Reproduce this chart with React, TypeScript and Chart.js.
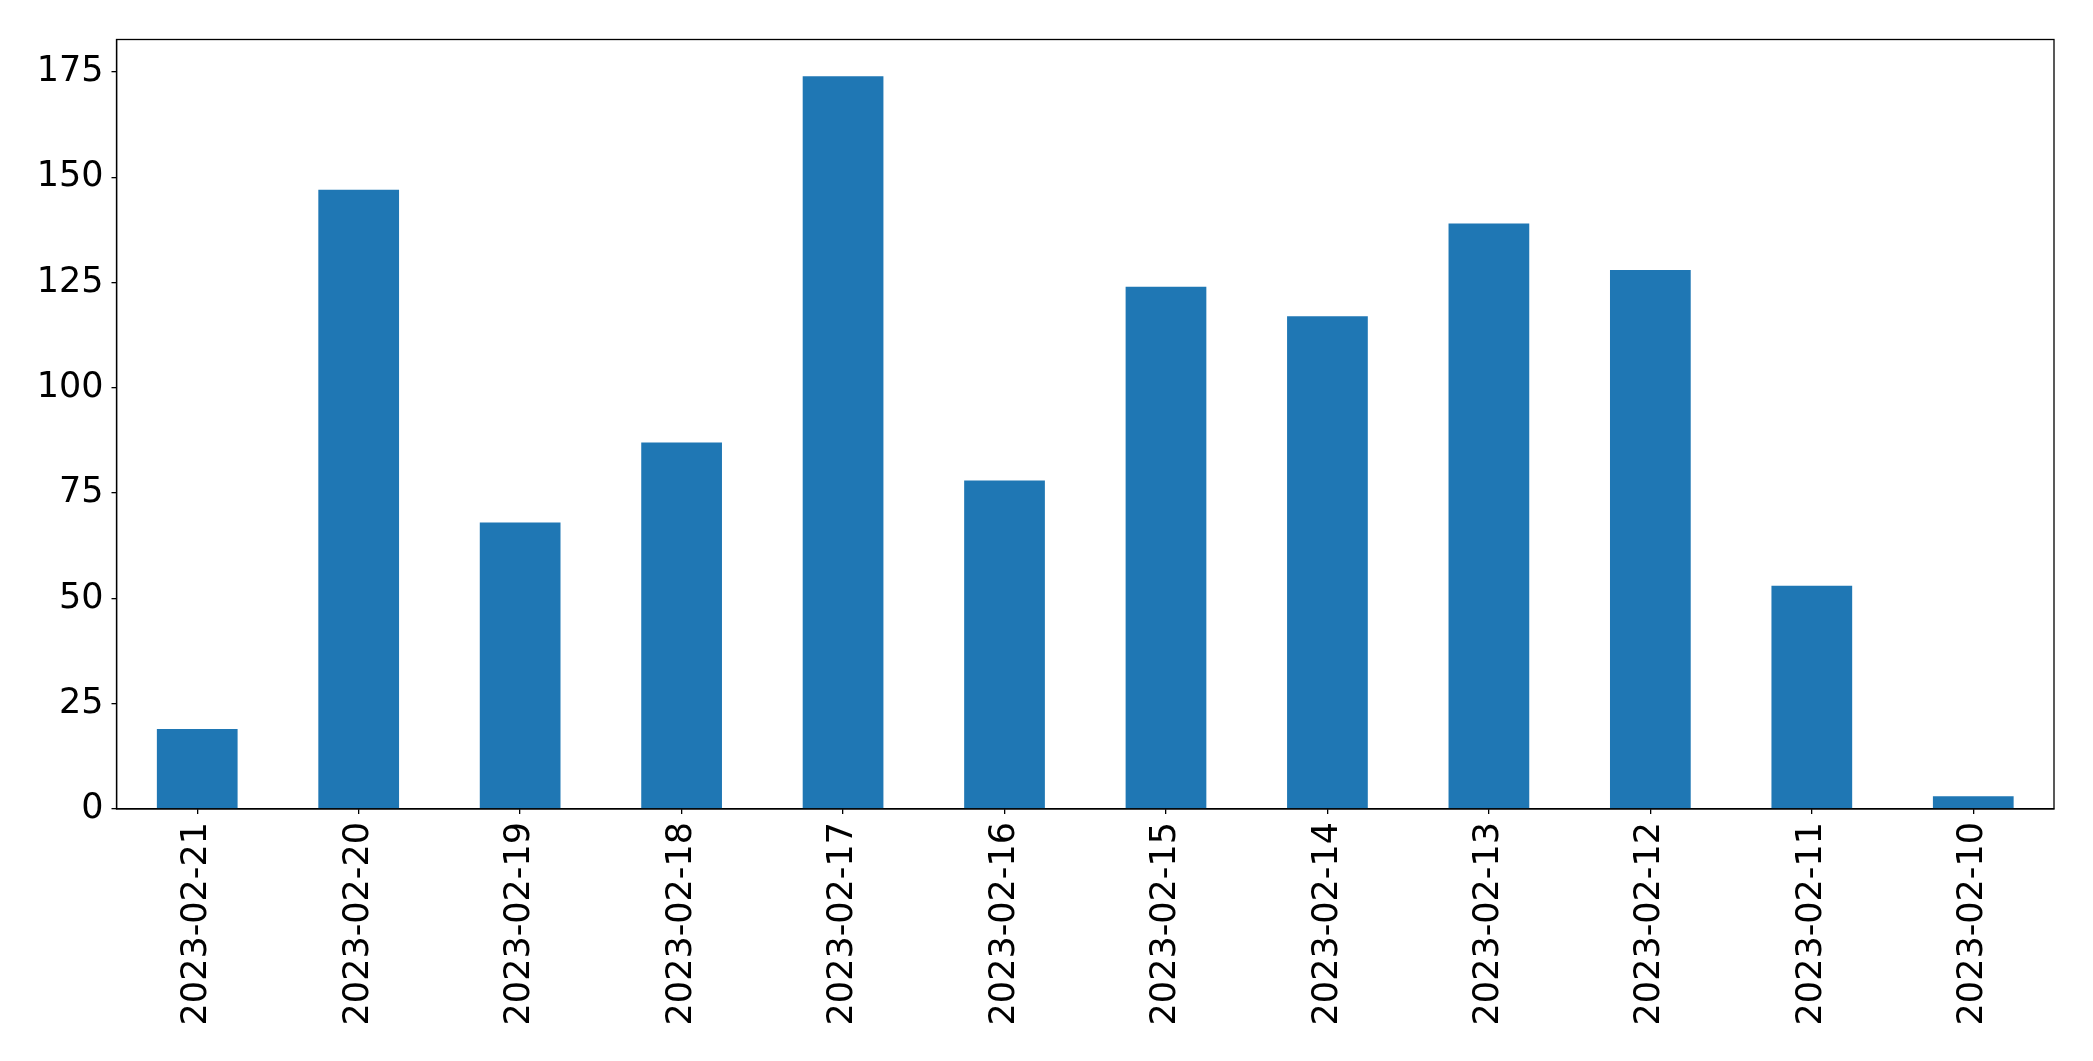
import React, { useEffect, useRef } from "react";
import { Chart, registerables } from "chart.js";

Chart.register(...registerables);

const categories = [
  "2023-02-21", "2023-02-20", "2023-02-19", "2023-02-18", "2023-02-17", "2023-02-16",
  "2023-02-15", "2023-02-14", "2023-02-13", "2023-02-12", "2023-02-11", "2023-02-10",
];
const counts = [19, 147, 68, 87, 174, 78, 124, 117, 139, 128, 53, 3];
const yTicks = [0, 25, 50, 75, 100, 125, 150, 175];
const yMax = 182.7;

const W = 2093;
const H = 1061;
const PLOT_LEFT = 116.5;
const PLOT_RIGHT = 2054;
const PLOT_TOP = 39.5;
const PLOT_BOTTOM = 809;

const frame = {
  id: "frame",
  afterDraw(chart: any) {
    const { ctx, chartArea } = chart;
    ctx.save();
    ctx.strokeStyle = "#000";
    ctx.lineWidth = 1.3;
    ctx.strokeRect(chartArea.left, chartArea.top, chartArea.right - chartArea.left, chartArea.bottom - chartArea.top);
    ctx.restore();
  },
};

export default function App() {
  const ref = useRef<HTMLCanvasElement | null>(null);
  useEffect(() => {
    document.body.style.margin = "0";
    const canvas = ref.current!;
    const chart = new Chart(canvas, {
      type: "bar",
      data: {
        labels: categories,
        datasets: [
          {
            data: counts,
            backgroundColor: "#1f77b4",
            borderWidth: 0,
            categoryPercentage: 1,
            barPercentage: 0.5,
          },
        ],
      },
      options: {
        animation: false,
        responsive: false,
        devicePixelRatio: 1,
        layout: { padding: { top: PLOT_TOP, right: W - PLOT_RIGHT, left: 0, bottom: 0 } },
        plugins: { legend: { display: false }, tooltip: { enabled: false } },
        scales: {
          x: {
            offset: true,
            grid: { display: true, offset: false, drawOnChartArea: false, drawTicks: true, tickLength: 5, color: "#000", lineWidth: 1.3 },
            border: { display: true, color: "#000", width: 1.3 },
            ticks: {
              color: "#000",
              font: { family: "DejaVu Sans", size: 35 },
              minRotation: 90,
              maxRotation: 90,
              padding: 8,
              autoSkip: false,
            },
            afterFit(scale: any) {
              scale.height = H - PLOT_BOTTOM;
            },
          },
          y: {
            min: 0,
            max: yMax,
            afterBuildTicks(scale: any) {
              scale.ticks = yTicks.map((v) => ({ value: v }));
            },
            grid: { display: true, drawOnChartArea: false, drawTicks: true, tickLength: 5, color: "#000", lineWidth: 1.3 },
            border: { display: true, color: "#000", width: 1.3 },
            ticks: {
              color: "#000",
              font: { family: "DejaVu Sans", size: 35 },
              padding: 8,
            },
            afterFit(scale: any) {
              scale.width = PLOT_LEFT;
            },
          },
        },
      },
      plugins: [frame],
    });
    return () => chart.destroy();
  }, []);
  return (
    <div style={{ width: W, height: H, background: "#fff" }}>
      <canvas ref={ref} width={W} height={H} style={{ width: W, height: H, display: "block" }} />
    </div>
  );
}
